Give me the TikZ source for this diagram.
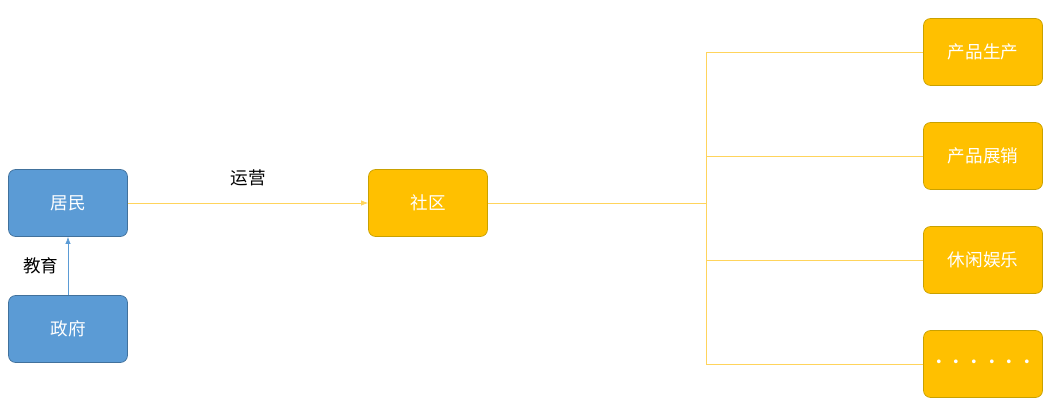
\documentclass[tikz,border=0pt]{standalone}
\usepackage{fontspec}
\setmainfont{Noto Sans CJK SC}
\usetikzlibrary{arrows.meta,positioning}
\definecolor{boxblue}{HTML}{5B9BD5}
\definecolor{edgeblue}{HTML}{41719C}
\definecolor{boxgold}{HTML}{FFC000}
\definecolor{edgegold}{HTML}{C9A100}
\definecolor{linegold}{HTML}{FFD45C}

\begin{document}
\begin{tikzpicture}[
    x=0.02cm, y=-0.02cm,
    font=\fontsize{10}{12}\selectfont,
    blue node/.style={draw=edgeblue,fill=boxblue,text=white,rounded corners=4pt,
      minimum width=2.38cm,minimum height=1.34cm,thin},
    gold node/.style={draw=edgegold,fill=boxgold,text=white,rounded corners=4pt,
      minimum width=2.38cm,minimum height=1.34cm,thin},
    feed/.style={-{Latex[length=4pt,width=3pt]},thin}]

  \useasboundingbox (0,0) rectangle (1050,405);

  \node[blue node] (resident) at (68,203) {居民};
  \node[blue node] (gov) at (68,329) {政府};
  \node[gold node] (community) at (428,203) {社区};
  \coordinate (hub) at (706,203);

  \foreach \name/\txt/\yy in {make/产品生产/52,show/产品展销/156,fun/休闲娱乐/260,more/{\textbullet\textbullet\textbullet\textbullet\textbullet\textbullet}/364}
    \node[gold node] (\name) at (983,\yy) {\txt};

  \draw[feed,boxblue] (gov) -- node[left=2pt,text=black] {教育} (resident);
  \draw[feed,linegold] (resident) -- node[above=6pt,text=black] {运营} (community);
  \draw[linegold,thin] (community) -- (hub);
  \foreach \name in {make,show,fun,more}
    \draw[linegold,thin] (hub) |- (\name.west);
\end{tikzpicture}
\end{document}
